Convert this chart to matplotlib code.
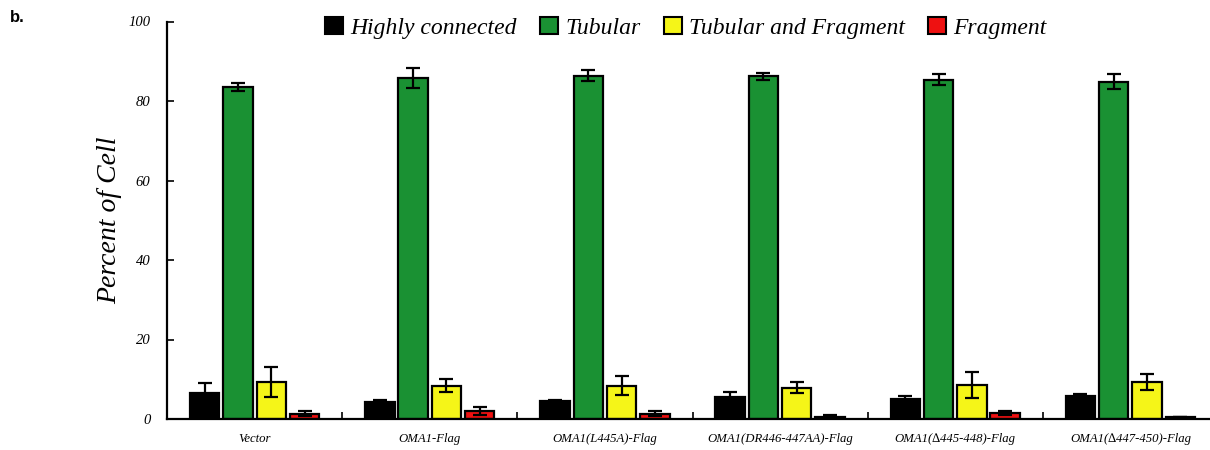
#!/usr/bin/env python3
"""Mitochondrial morphology bar chart (panel b)."""
import numpy as np
import matplotlib

matplotlib.use("Agg")
import matplotlib.pyplot as plt
from matplotlib.patches import Patch

groups = [
    "Vector",
    "OMA1-Flag",
    "OMA1(L445A)-Flag",
    "OMA1(DR446-447AA)-Flag",
    "OMA1(\u2206445-448)-Flag",
    "OMA1(\u2206447-450)-Flag",
]
series = ["Highly connected", "Tubular", "Tubular and Fragment", "Fragment"]
colors = ["#000000", "#1a9133", "#f5f518", "#ee1111"]

highly = [6.5, 4.3, 4.6, 5.6, 5.1, 5.7]
highly_err = [2.5, 0.6, 0.3, 1.1, 0.8, 0.6]
tubular = [83.5, 85.7, 86.4, 86.2, 85.4, 84.9]
tubular_err = [1.0, 2.5, 1.3, 0.8, 1.3, 1.8]
tub_frag = [9.3, 8.4, 8.4, 7.9, 8.6, 9.4]
tub_frag_err = [3.8, 1.7, 2.4, 1.4, 3.3, 2.0]
fragment = [1.3, 2.0, 1.3, 0.6, 1.6, 0.5]
fragment_err = [0.6, 1.0, 0.6, 0.3, 0.5, 0.1]

values = [highly, tubular, tub_frag, fragment]
errors = [highly_err, tubular_err, tub_frag_err, fragment_err]

plt.rcParams["font.family"] = ["Liberation Serif", "DejaVu Serif"]

fig = plt.figure(figsize=(12.1, 4.5), dpi=100)
ax = fig.add_axes([167 / 1210, 1 - 419 / 450, 1051 / 1210, 397.5 / 450])

x = np.arange(len(groups))
offsets = [-0.285, -0.095, 0.095, 0.285]
for vals, errs, col, off in zip(values, errors, colors, offsets):
    ax.bar(x + off, vals, width=0.168, color=col, edgecolor="black",
           linewidth=1.6, zorder=2)
    ax.errorbar(x + off, vals, yerr=errs, fmt="none", ecolor="black",
                elinewidth=1.6, capsize=5, capthick=1.6, zorder=3)

ax.set_xlim(-0.5, 5.5)
ax.set_ylim(0, 100)
ax.set_xticks(x)
ax.set_xticklabels(groups, fontsize=9.2, style="italic")
ax.set_xticks(np.arange(0.5, 5.5, 1), minor=True)
ax.tick_params(axis="x", which="major", length=0, pad=10)
ax.tick_params(axis="x", which="minor", direction="in", length=5, width=1.2)
ax.set_yticks(range(0, 101, 20))
ax.set_yticklabels([str(v) for v in range(0, 101, 20)], fontsize=10.5,
                   style="italic")
ax.tick_params(axis="y", direction="in", length=5, width=1.2, pad=12)
ax.set_ylabel("Percent of Cell", fontsize=20, style="italic", labelpad=4)

for side in ("top", "right"):
    ax.spines[side].set_visible(False)
for side in ("left", "bottom"):
    ax.spines[side].set_linewidth(1.6)

handles = [Patch(facecolor=c, edgecolor="black", linewidth=1.5) for c in colors]
fig.legend(handles, series, loc="center", bbox_to_anchor=(686 / 1210, 1 - 28 / 450),
           ncol=4, frameon=False, prop={"style": "italic", "size": 17},
           handlelength=0.75, handleheight=0.75, handletextpad=0.3,
           columnspacing=1.0)

fig.text(10 / 1210, 1 - 18 / 450, "b.", fontsize=12, fontweight="bold",
         family="Liberation Sans", va="center")

fig.savefig("out.png", dpi=100)
